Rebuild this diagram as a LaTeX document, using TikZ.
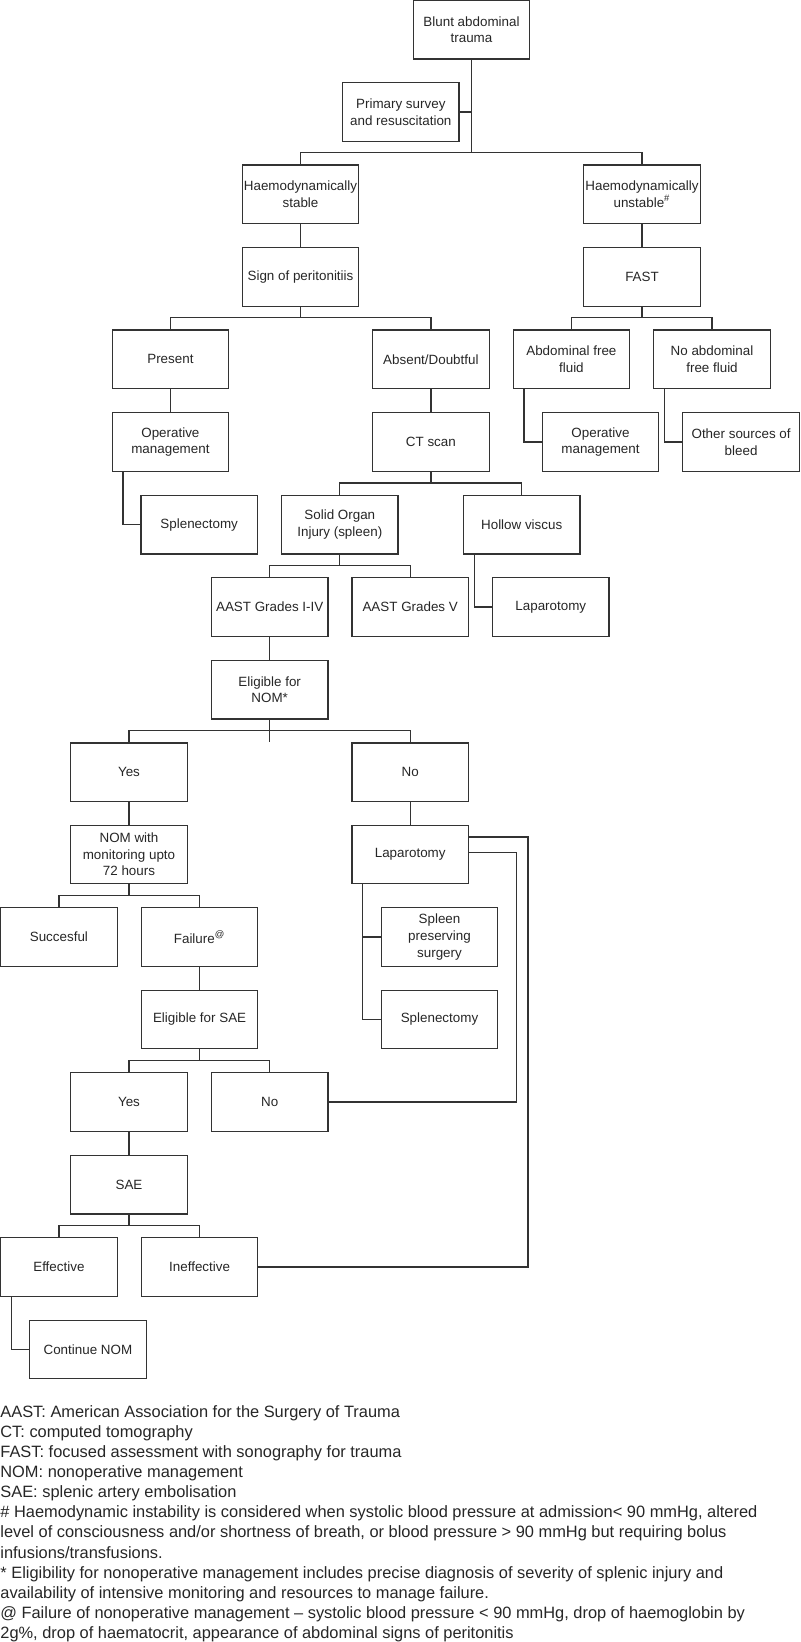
\documentclass[tikz,border=0pt]{standalone}
\usepackage{fontspec}
\setmainfont{Liberation Sans}
\usetikzlibrary{calc}
\newcommand{\splitto}[3]{\coordinate (#1bar) at ([yshift=6pt]#2.north);\draw[sline] (#2.north) -- (#1bar) -| (#3.north);\draw[sline] (#1.south) -- (#1.south |- #1bar);}
\newcommand{\sidelink}[2]{\draw[sline] ([xshift=5.75pt]#1.south west) |- (#2.west);}
\tikzset{sbox/.style={draw=black!80, line width=0.6pt, minimum width=58.25pt, minimum height=29.2pt, inner sep=0pt, align=center, text=black!85, font=\fontsize{6.7}{8.3}\selectfont},
  sline/.style={draw=black!80, line width=0.6pt}}

\begin{document}
\begin{tikzpicture}[x=0.5pt, y=-0.5pt]
\useasboundingbox (0,0) rectangle (800,1642);
\node[sbox] (bat) at (471.5,29.8) {Blunt abdominal\\trauma};
\node[sbox] (psr) at (400.8,112) {Primary survey\\and resuscitation};
\node[sbox] (hs) at (300.5,194.2) {Haemodynamically\\stable};
\node[sbox] (hu) at (642,194.2) {Haemodynamically\\unstable\textsuperscript{\#}};
\node[sbox] (sp) at (300.5,277) {Sign of peritonitiis};
\node[sbox] (fast) at (642,277) {FAST};
\node[sbox] (pres) at (170.4,359.3) {Present};
\node[sbox] (abs) at (430.9,359.3) {Absent/Doubtful};
\node[sbox] (aff) at (571.4,359.3) {Abdominal free\\fluid};
\node[sbox] (naff) at (712,359.3) {No abdominal\\free fluid};
\node[sbox] (opl) at (170.4,442) {Operative\\management};
\node[sbox] (ct) at (430.9,442) {CT scan};
\node[sbox] (opr) at (600.5,442) {Operative\\management};
\node[sbox] (osb) at (741.1,442) {Other sources of\\bleed};
\node[sbox] (spl1) at (199.2,524.7) {Splenectomy};
\node[sbox] (soi) at (339.8,524.7) {Solid Organ\\Injury (spleen)};
\node[sbox] (hv) at (521.7,524.7) {Hollow viscus};
\node[sbox] (g14) at (269.7,606.9) {AAST Grades I-IV};
\node[sbox] (g5) at (410.2,606.9) {AAST Grades V};
\node[sbox] (lap1) at (550.8,606.9) {Laparotomy};
\node[sbox] (enom) at (269.7,689.7) {Eligible for\\NOM*};
\node[sbox] (yes1) at (129,772.2) {Yes};
\node[sbox] (no1) at (410.2,772.2) {No};
\node[sbox] (nomm) at (129,854.5) {NOM with\\monitoring upto\\72 hours};
\node[sbox] (lap2) at (410.2,854.5) {Laparotomy};
\node[sbox] (succ) at (58.9,937) {Succesful};
\node[sbox] (fail) at (199.6,937) {Failure\textsuperscript{@}};
\node[sbox] (sps) at (439.5,937) {Spleen\\preserving\\surgery};
\node[sbox] (esae) at (199.6,1019.3) {Eligible for SAE};
\node[sbox] (spl2) at (439.5,1019.3) {Splenectomy};
\node[sbox] (yes2) at (129,1101.9) {Yes};
\node[sbox] (no2) at (269.7,1101.9) {No};
\node[sbox] (sae) at (129,1184.7) {SAE};
\node[sbox] (eff) at (58.9,1267) {Effective};
\node[sbox] (ineff) at (199.6,1267) {Ineffective};
\node[sbox] (cnom) at (87.9,1349.3) {Continue NOM};
\splitto{bat}{hs}{hu}
\draw[sline] (psr.east) -- (psr.east -| bat.south);
\draw[sline] (hs) -- (sp);
\draw[sline] (hu) -- (fast);
\splitto{sp}{pres}{abs}
\splitto{fast}{aff}{naff}
\draw[sline] (pres) -- (opl);
\draw[sline] (abs) -- (ct);
\sidelink{aff}{opr}
\sidelink{naff}{osb}
\sidelink{opl}{spl1}
\splitto{ct}{soi}{hv}
\splitto{soi}{g14}{g5}
\sidelink{hv}{lap1}
\draw[sline] (g14) -- (enom);
\splitto{enom}{yes1}{no1}
\draw[sline] (enom.south) -- (yes1.north -| enom.south);
\draw[sline] (yes1) -- (nomm);
\draw[sline] (no1) -- (lap2);
\splitto{nomm}{succ}{fail}
\sidelink{lap2}{sps}
\draw[sline] ([xshift=5.75pt]lap2.south west |- sps.west) |- (spl2.west);
\draw[sline] (fail) -- (esae);
\splitto{esae}{yes2}{no2}
\draw[sline] (yes2) -- (sae);
\splitto{sae}{eff}{ineff}
\sidelink{eff}{cnom}
\coordinate (fbo) at (528,837);
\coordinate (fbi) at (516.8,852.7);
\draw[sline] (fbo -| lap2.east) -- (fbo) |- (ineff.east);
\draw[sline] (fbi -| lap2.east) -- (fbi) |- (no2.east);
\node[anchor=north west, inner sep=0pt, align=left, text=black!85, font=\fontsize{8.2}{10.05}\selectfont] (key) at (0,1405) {AAST: American Association for the Surgery of Trauma\\
CT: computed tomography\\
FAST: focused assessment with sonography for trauma\\
NOM: nonoperative management\\
SAE: splenic artery embolisation\\
\# Haemodynamic instability is considered when systolic blood pressure at admission< 90 mmHg, altered\\
level of consciousness and/or shortness of breath, or blood pressure > 90 mmHg but requiring bolus\\
infusions/transfusions.\\
* Eligibility for nonoperative management includes precise diagnosis of severity of splenic injury and\\
availability of intensive monitoring and resources to manage failure.\\
@ Failure of nonoperative management -- systolic blood pressure < 90 mmHg, drop of haemoglobin by\\
2g\%, drop of haematocrit, appearance of abdominal signs of peritonitis};
\end{tikzpicture}
\end{document}
